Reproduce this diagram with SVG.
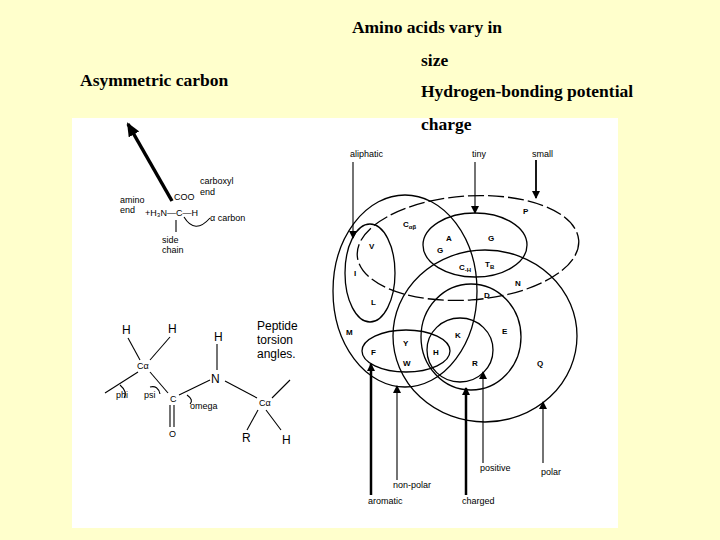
<svg xmlns="http://www.w3.org/2000/svg" width="720" height="540" viewBox="0 0 720 540">
<defs>
<marker id="ah" markerWidth="8" markerHeight="8" refX="7" refY="4" orient="auto" markerUnits="userSpaceOnUse"><path d="M0,0 L8,4 L0,8 Z" fill="#000"/></marker>
<marker id="ahb" markerWidth="14" markerHeight="12" refX="12" refY="6" orient="auto" markerUnits="userSpaceOnUse"><path d="M0,0 L14,6 L0,12 Z" fill="#000"/></marker>
</defs>
<style>
.t{font-family:"Liberation Serif",serif;font-weight:bold;font-size:17.5px;fill:#000}
.s{font-family:"Liberation Sans",sans-serif;font-size:9px;fill:#000}
.b{font-family:"Liberation Sans",sans-serif;font-size:8px;font-weight:bold;fill:#000}
.p{font-family:"Liberation Sans",sans-serif;font-size:12px;fill:#000}
.e{fill:none;stroke:#000;stroke-width:1.3}
.l{stroke:#000;stroke-width:1.1;fill:none}
</style>
<rect width="720" height="540" fill="#FFFFCC"/>
<rect x="72" y="118" width="546" height="410" fill="#fff"/>
<text class="t" x="427" y="33" text-anchor="middle">Amino acids vary in</text>
<text class="t" x="421" y="66">size</text>
<text class="t" x="421" y="97">Hydrogen-bonding potential</text>
<text class="t" x="421" y="130">charge</text>
<text class="t" x="80" y="86">Asymmetric carbon</text>
<g id="asym">
<line x1="172" y1="201" x2="128" y2="124" stroke="#000" stroke-width="3.5" marker-end="url(#ahb)"/>
<text class="s" x="200" y="184">carboxyl</text><text class="s" x="200" y="195">end</text>
<text class="s" x="120" y="203">amino</text><text class="s" x="120" y="213">end</text>
<text class="s" x="174" y="200">COO</text>
<text class="s" x="145" y="216">+H₃N—C—H</text>
<text class="s" x="210" y="221">α carbon</text>
<text class="s" x="162" y="243">side</text><text class="s" x="162" y="253">chain</text>
<line class="l" x1="176" y1="220" x2="176" y2="232"/>
<path class="l" d="M184,217 Q195,235 210,218"/>
</g>
<g id="peptide">
<text class="p" x="122" y="334">H</text><text class="p" x="168" y="333">H</text><text class="p" x="214" y="341">H</text>
<text class="p" x="257" y="330">Peptide</text><text class="p" x="257" y="344">torsion</text><text class="p" x="257" y="358">angles.</text>
<text class="s" x="137" y="369">Cα</text>
<text class="p" x="211" y="383">N</text>
<text class="s" x="170" y="402">C</text>
<text class="s" x="169" y="437">O</text>
<text class="s" x="259" y="406">Cα</text>
<text class="p" x="242" y="442">R</text><text class="p" x="282" y="444">H</text>
<text class="s" x="116" y="398">phi</text><text class="s" x="144" y="398">psi</text><text class="s" x="190" y="409">omega</text>
<line class="l" x1="128" y1="338" x2="140" y2="360"/>
<line class="l" x1="170" y1="337" x2="150" y2="360"/>
<line class="l" x1="138" y1="372" x2="105" y2="393"/>
<line class="l" x1="150" y1="372" x2="168" y2="393"/>
<line class="l" x1="179" y1="395" x2="210" y2="380"/>
<line class="l" x1="217" y1="344" x2="217" y2="370"/>
<line class="l" x1="225" y1="381" x2="257" y2="398"/>
<line class="l" x1="272" y1="398" x2="290" y2="380"/>
<line class="l" x1="258" y1="410" x2="247" y2="430"/>
<line class="l" x1="266" y1="410" x2="281" y2="430"/>
<line class="l" x1="170" y1="405" x2="170" y2="427"/><line class="l" x1="174" y1="405" x2="174" y2="427"/>
<path class="l" d="M120,385 Q128,392 124,398"/>
<path class="l" d="M150,387 Q158,385 160,394"/>
<path class="l" d="M187,395 Q194,400 190,404"/>
</g>
<g id="venn">
<ellipse class="e" cx="468" cy="248" rx="111" ry="52" transform="rotate(-4 468 248)" stroke-dasharray="16,4"/>
<ellipse class="e" cx="405" cy="291" rx="72" ry="96"/>
<ellipse class="e" cx="475" cy="245" rx="52" ry="32"/>
<ellipse class="e" cx="370" cy="273" rx="25" ry="49"/>
<ellipse class="e" cx="485" cy="336" rx="92" ry="86"/>
<ellipse class="e" cx="471" cy="337" rx="50" ry="53"/>
<ellipse class="e" cx="460" cy="350" rx="33" ry="32"/>
<ellipse class="e" cx="406" cy="351" rx="44" ry="21"/>
<text class="b" x="403" y="227">C<tspan font-size="6" dy="2">αβ</tspan></text>
<text class="b" x="369" y="249">V</text><text class="b" x="354" y="276">I</text><text class="b" x="371" y="305">L</text>
<text class="b" x="346" y="335">M</text><text class="b" x="446" y="241">A</text><text class="b" x="488" y="241">G</text>
<text class="b" x="437" y="253">G</text><text class="b" x="459" y="270">C<tspan font-size="6" dy="2">-H</tspan></text>
<text class="b" x="485" y="267">T<tspan font-size="6" dy="2">B</tspan></text>
<text class="b" x="515" y="286">N</text><text class="b" x="484" y="298">D</text>
<text class="b" x="455" y="338">K</text><text class="b" x="502" y="334">E</text>
<text class="b" x="371" y="355">F</text><text class="b" x="403" y="346">Y</text><text class="b" x="403" y="366">W</text>
<text class="b" x="433" y="355">H</text><text class="b" x="472" y="366">R</text><text class="b" x="537" y="366">Q</text>
<text class="b" x="523" y="214">P</text>
<text class="s" x="350" y="157">aliphatic</text><text class="s" x="472" y="157">tiny</text><text class="s" x="532" y="157">small</text>
<text class="s" x="368" y="504">aromatic</text><text class="s" x="393" y="488">non-polar</text>
<text class="s" x="462" y="504">charged</text><text class="s" x="480" y="471">positive</text><text class="s" x="541" y="475">polar</text>
</g>
<g id="connectors">
<line class="l" x1="353" y1="162" x2="353" y2="238" marker-end="url(#ah)"/>
<line class="l" x1="475" y1="162" x2="475" y2="213" marker-end="url(#ah)"/>
<line x1="536" y1="160" x2="536" y2="198" stroke="#000" stroke-width="1.8" marker-end="url(#ah)"/>
<line x1="371" y1="495" x2="371" y2="364" stroke="#000" stroke-width="2.5" marker-end="url(#ah)"/>
<line class="l" x1="397" y1="480" x2="397" y2="386" marker-end="url(#ah)"/>
<line x1="466" y1="495" x2="466" y2="388" stroke="#000" stroke-width="2.5" marker-end="url(#ah)"/>
<line class="l" x1="483" y1="463" x2="483" y2="372" marker-end="url(#ah)"/>
<line class="l" x1="543" y1="463" x2="543" y2="402" marker-end="url(#ah)"/>
</g>
</svg>
